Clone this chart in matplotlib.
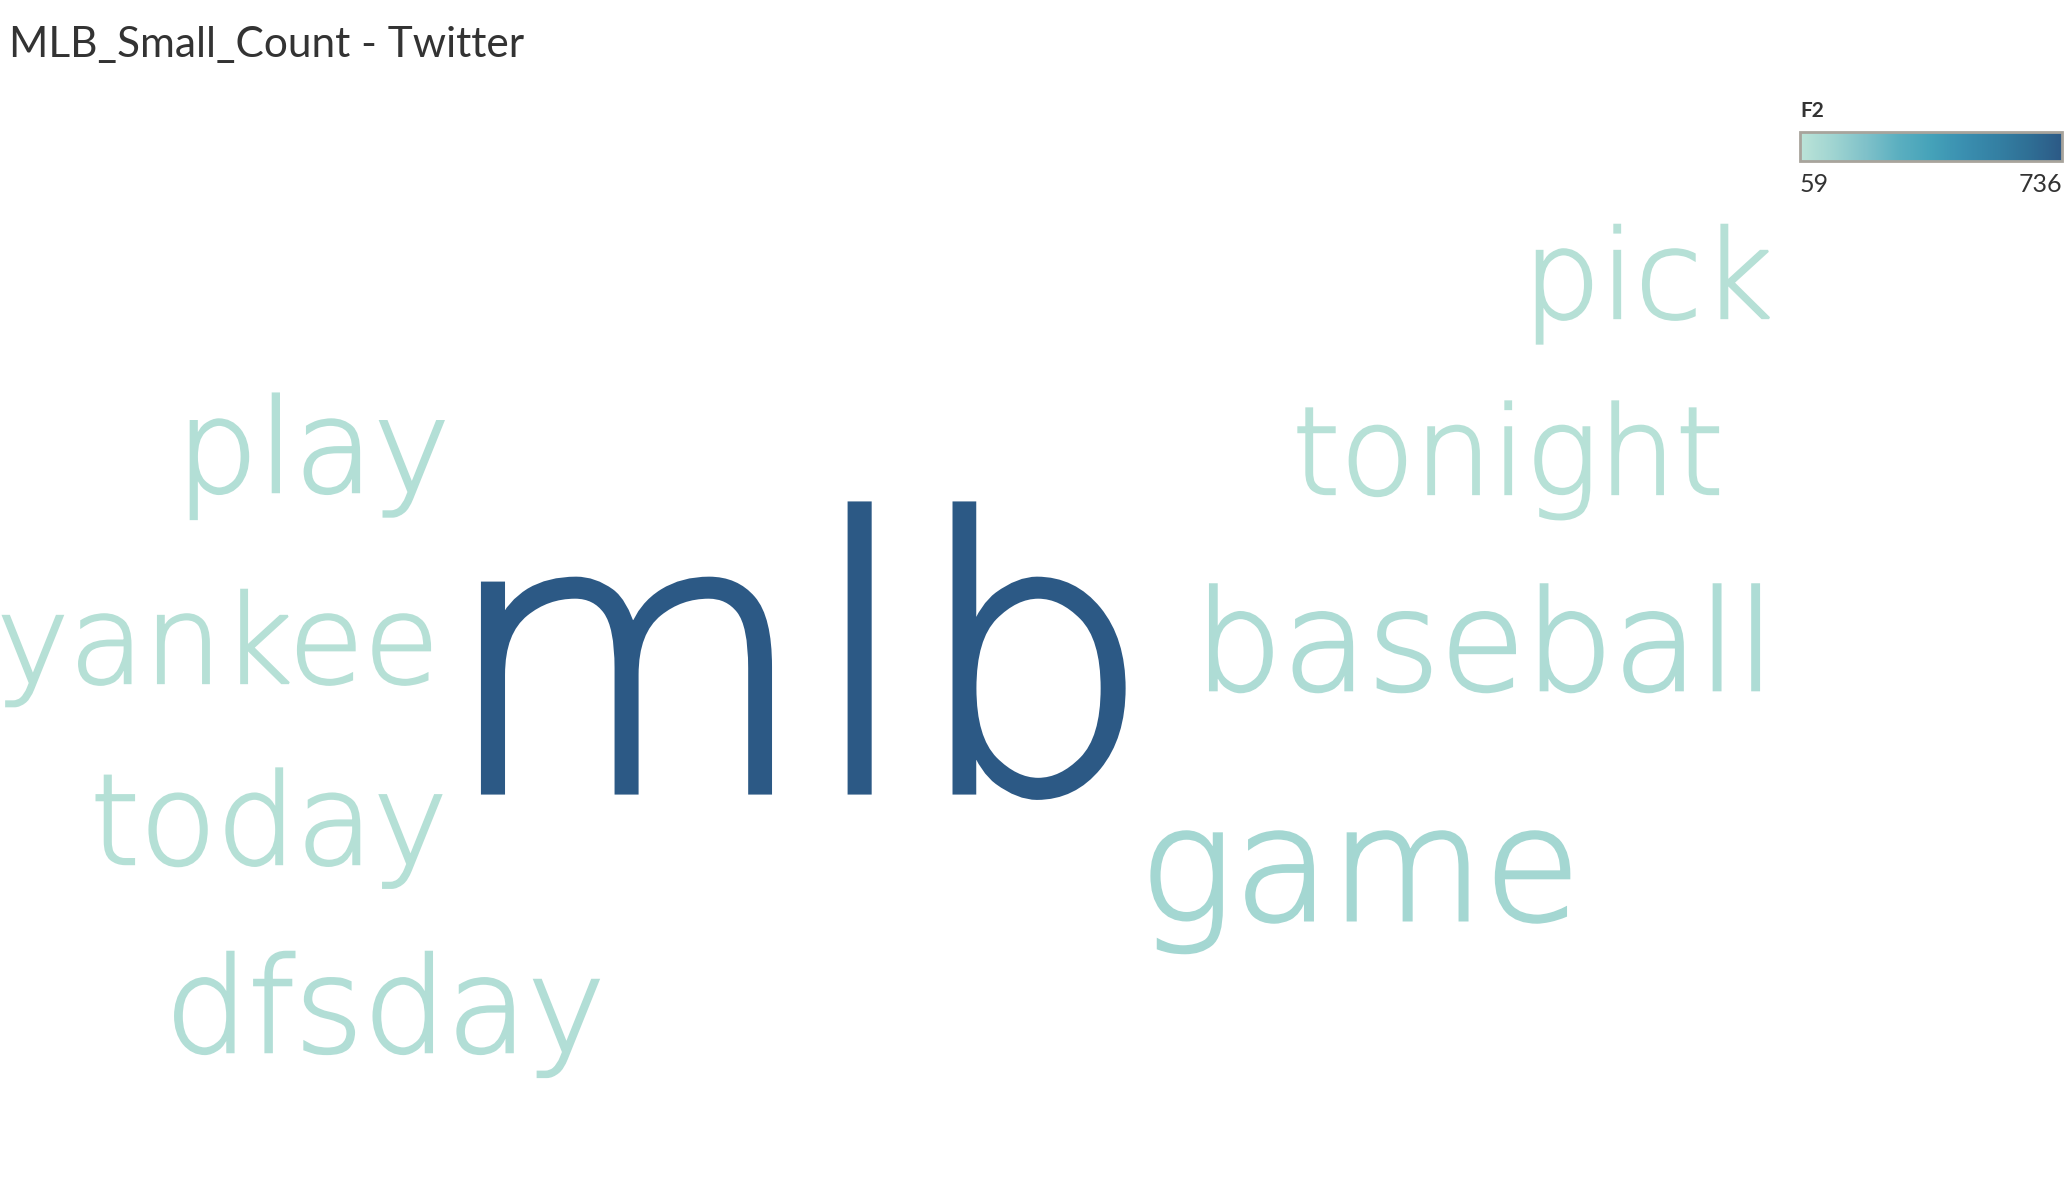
import matplotlib
matplotlib.use("Agg")
import matplotlib.pyplot as plt
import matplotlib.patheffects as pe
import numpy as np
from matplotlib.colors import LinearSegmentedColormap, Normalize
from matplotlib.cm import ScalarMappable

# word counts (F2)
words = ["mlb", "game", "baseball", "dfsday", "play", "today", "yankee", "pick", "tonight"]
counts = [736, 129, 100, 90, 87, 82, 78, 78, 77]
legend_range = [59, 736]

# layout of the cloud, in pixels of the 2072x1180 canvas (word centre x, baseline y)
layout_x = [797, 1360, 1485, 385, 313, 269, 218, 1648, 1508]
layout_y = [791, 920, 690, 1052, 492, 864, 683, 318, 494]

W, H = 2072, 1180
blue_teal = ["#bce4d8", "#9fd4d1", "#7fc1c9", "#5bafc0", "#45a2b9",
             "#3a8fb0", "#3480a3", "#2f6f95", "#2c5985"]
cmap = LinearSegmentedColormap.from_list("blue_teal", blue_teal)
norm = Normalize(vmin=legend_range[0], vmax=legend_range[1])

fig = plt.figure(figsize=(W / 100, H / 100), dpi=100)
ax = fig.add_axes([0, 0, 1, 1])
ax.set_xlim(0, W)
ax.set_ylim(H, 0)
ax.axis("off")

max_size = 271
for w, c, x, y in zip(words, counts, layout_x, layout_y):
    size = max_size * np.sqrt(c / max(counts))
    col = cmap(norm(c))
    ax.text(x, y, w, fontsize=size, color=col, ha="center", va="baseline",
            family="DejaVu Sans", fontweight="light",
            path_effects=[pe.withStroke(linewidth=size * 0.019, foreground=col,
                                        joinstyle="miter")])

# title
fig.text(9 / W, 1 - 45 / H, "MLB_Small_Count - Twitter", fontsize=30.5,
         family="Lato", color="#333333", va="center", ha="left")

# colour legend
cax = fig.add_axes([1800 / W, 1 - 161 / H, 262 / W, 29 / H])
cb = fig.colorbar(ScalarMappable(norm=norm, cmap=cmap), cax=cax, orientation="horizontal")
cb.set_ticks([])
cb.outline.set_edgecolor("#a8a49c")
cb.outline.set_linewidth(2)
fig.text(1800 / W, 1 - 111 / H, "F2", fontsize=15, fontweight="bold",
         family="Lato", color="#333333", va="center", ha="left")
fig.text(1800 / W, 1 - 184 / H, str(legend_range[0]), fontsize=18,
         family="Lato", color="#333333", va="center", ha="left")
fig.text(2062 / W, 1 - 184 / H, str(legend_range[1]), fontsize=18,
         family="Lato", color="#333333", va="center", ha="right")

fig.savefig("out.png", dpi=100, facecolor="white")
